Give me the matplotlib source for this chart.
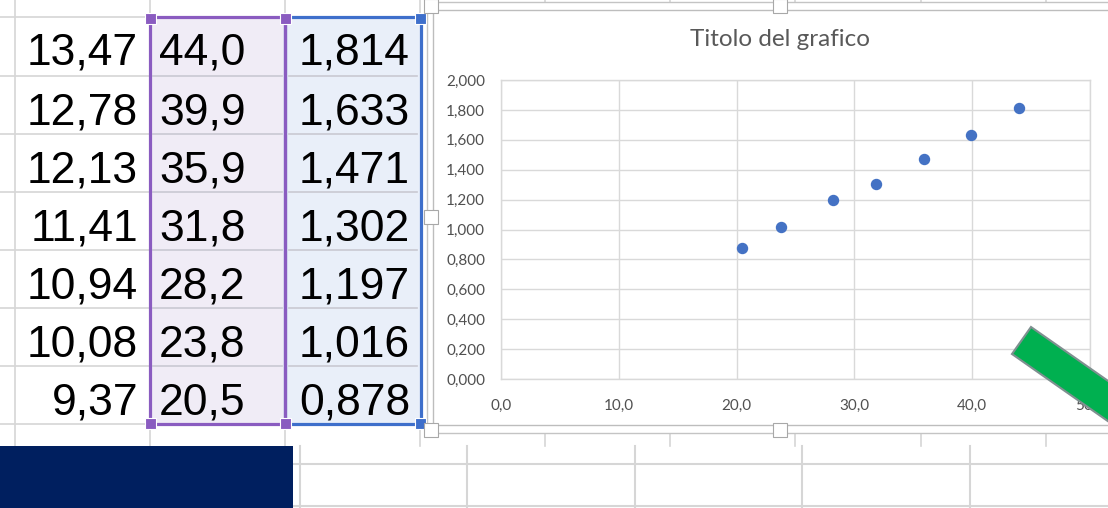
import matplotlib.pyplot as plt
from matplotlib.patches import Rectangle, Polygon
from matplotlib.ticker import FuncFormatter

# valori delle tre colonne del foglio
col_a = [13.47, 12.78, 12.13, 11.41, 10.94, 10.08, 9.37]
col_b = [44.0, 39.9, 35.9, 31.8, 28.2, 23.8, 20.5]
col_c = [1.814, 1.633, 1.471, 1.302, 1.197, 1.016, 0.878]

chart_title = 'Titolo del grafico'

W, H = 1108, 508
GRID = '#d6d6d6'
PURPLE = '#8a5cc0'
BLUE = '#3e6fcb'
TXT = '#595959'


def virgola(v, dec):
    return f'{v:.{dec}f}'.replace('.', ',')


fig = plt.figure(figsize=(W / 100, H / 100), dpi=100)

# sfondo in coordinate pixel: celle del foglio
bg = fig.add_axes([0, 0, 1, 1])
bg.set_xlim(0, W)
bg.set_ylim(H, 0)
bg.axis('off')

rows = [17, 76, 134, 192, 250, 308, 366, 424]

# griglia della colonna A
for y in rows:
    bg.plot([0, 149], [y, y], color=GRID, lw=1.2)
for x in [15, 150, 285, 420]:
    bg.plot([x, x], [0, 446], color=GRID, lw=1.2)

# colonne selezionate (B viola, C blu)
bg.add_patch(Rectangle((285, 17), 135, 407, facecolor='#e9eff9', edgecolor='none', zorder=2.5))
bg.add_patch(Rectangle((149, 17), 136, 407, facecolor='#f0ecf6', edgecolor='none', zorder=2.5))
for y in rows[1:-1]:
    bg.plot([153, 282], [y, y], color='#c9c9d2', lw=1.2, zorder=2.6)
    bg.plot([289, 417], [y, y], color='#c9c9d2', lw=1.2, zorder=2.6)
bg.add_patch(Rectangle((285, 17), 135.5, 407, facecolor='none', edgecolor=BLUE, lw=2.3, zorder=3))
bg.add_patch(Rectangle((149.5, 17), 135.5, 407, facecolor='none', edgecolor=PURPLE, lw=2.3, zorder=3))
for (x, y, c) in [(150, 18, PURPLE), (285, 18, PURPLE), (420, 18, BLUE),
                  (150, 423, PURPLE), (285, 423, PURPLE), (420, 423, BLUE)]:
    bg.add_patch(Rectangle((x - 5.5, y - 5.5), 11, 11, facecolor=c, edgecolor='white', lw=0.8, zorder=4))

# numeri nelle celle
for i in range(len(col_a)):
    base = rows[i] + 48
    bg.text(138, base, virgola(col_a[i], 2), ha='right', va='baseline',
            fontsize=32, family='Liberation Sans', color='black', zorder=4)
    bg.text(159, base, virgola(col_b[i], 1), ha='left', va='baseline',
            fontsize=32, family='Liberation Sans', color='black', zorder=4)
    bg.text(410, base, virgola(col_c[i], 3), ha='right', va='baseline',
            fontsize=32, family='Liberation Sans', color='black', zorder=4)

# celle sotto il grafico
for x in [545, 670, 795, 921, 1046]:
    bg.plot([x, x], [0, 2], color=GRID, lw=1.2)
    bg.plot([x, x], [434, 446], color=GRID, lw=1.2)
for x in [300, 467, 635, 802, 970]:
    bg.plot([x, x], [446, H], color=GRID, lw=1.5)
for y in [464, 506]:
    bg.plot([293, W], [y, y], color=GRID, lw=1.5)
bg.add_patch(Rectangle((0, 446), 293, 62, facecolor='#001f5f', edgecolor='none', zorder=5))

# cornice dell'oggetto grafico
bg.add_patch(Rectangle((433, 10), 700, 415, facecolor='white', edgecolor='#bdbdbd', lw=1.0, zorder=2))
bg.add_patch(Rectangle((427, 2), 720, 431, facecolor='none', edgecolor='#c4c4c4', lw=1.0, zorder=2))
for (x, y) in [(431, 6), (780, 6), (431, 217), (431, 430), (780, 430)]:
    bg.add_patch(Rectangle((x - 7, y - 6), 15, 14, facecolor='#b0b0b0', edgecolor='none', zorder=3, alpha=0.5))
    bg.add_patch(Rectangle((x - 7.5, y - 7.5), 14, 14, facecolor='white', edgecolor='#a8a8a8', lw=0.8, zorder=4))

bg.text(780, 46, chart_title, ha='center', va='baseline', fontsize=17.5,
        family='Lato', color=TXT, zorder=4)

# area del tracciato
ax = fig.add_axes([501 / W, (H - 379) / H, (1090 - 501) / W, (379 - 80) / H])
ax.set_facecolor('none')
ax.set_xlim(0, 50)
ax.set_ylim(0, 2)
ax.set_xticks([0, 10, 20, 30, 40, 50])
ax.set_yticks([0, 0.2, 0.4, 0.6, 0.8, 1.0, 1.2, 1.4, 1.6, 1.8, 2.0])
ax.xaxis.set_major_formatter(FuncFormatter(lambda v, p: virgola(v, 1)))
ax.yaxis.set_major_formatter(FuncFormatter(lambda v, p: virgola(v, 3)))
ax.grid(True, color='#d9d9d9', lw=1.0)
ax.set_axisbelow(True)
for s in ax.spines.values():
    s.set_color('#d9d9d9')
    s.set_linewidth(1.0)
ax.tick_params(length=0, labelsize=11, labelcolor='#505050')
ax.tick_params(axis='y', pad=11.5)
ax.tick_params(axis='x', pad=14)
for lab in ax.get_xticklabels() + ax.get_yticklabels():
    lab.set_family('Lato')
ax.plot(col_b, col_c, 'o', color='#4472c4', ms=7.2, zorder=3, clip_on=False)

# evidenziatore verde sopra il grafico
top = fig.add_axes([0, 0, 1, 1])
top.set_xlim(0, W)
top.set_ylim(H, 0)
top.axis('off')
top.add_patch(Polygon([(1031, 327), (1012, 354), (1212, 494), (1231, 467)],
                      closed=True, facecolor='#00b050', edgecolor='#7f9090', lw=1.5))

fig.savefig('out.png', dpi=100)
